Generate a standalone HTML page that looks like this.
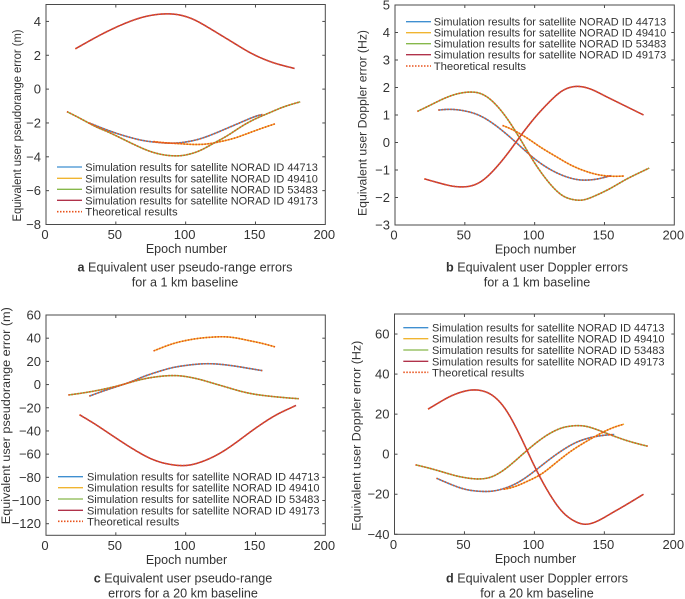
<!DOCTYPE html>
<html>
<head>
<meta charset="utf-8">
<style>
html,body{margin:0;padding:0;background:#fff;width:685px;height:599px;overflow:hidden}
svg{display:block;font-family:"Liberation Sans",sans-serif;filter:blur(0.35px)}
text{fill:#333}
</style>
</head>
<body>
<svg id="fig" width="685" height="599" viewBox="0 0 685 599"></svg>
<script>
const xTicks=[0,50,100,150,200];
const seriesNames=["Simulation results for satellite NORAD ID 44713","Simulation results for satellite NORAD ID 49410","Simulation results for satellite NORAD ID 53483","Simulation results for satellite NORAD ID 49173"];
const theoryName="Theoretical results";

const aTicks=[-8,-6,-4,-2,0,2,4];
const a44713X=[31,40,50,60,70,80,90,100,110,120,130,140,150,155];
const a44713Y=[-2.0,-2.3,-2.6,-2.85,-3.05,-3.15,-3.2,-3.13,-2.95,-2.65,-2.3,-1.95,-1.6,-1.5];
const a49410X=[77,85,95,105,115,125,135,145,155,164];
const a49410Y=[-3.1,-3.17,-3.22,-3.27,-3.25,-3.1,-2.9,-2.6,-2.3,-2.05];
const a53483X=[15,25,35,45,55,65,75,85,93,100,110,120,130,140,150,160,170,182];
const a53483Y=[-1.33,-1.75,-2.2,-2.55,-2.95,-3.35,-3.7,-3.9,-3.95,-3.9,-3.65,-3.2,-2.75,-2.2,-1.75,-1.4,-1.05,-0.75];
const a49173X=[21,30,40,50,60,70,80,88,95,105,115,125,135,145,155,165,178];
const a49173Y=[2.38,2.8,3.25,3.65,4.0,4.27,4.42,4.45,4.4,4.15,3.7,3.2,2.7,2.2,1.8,1.5,1.22];

const bTicks=[-3,-2,-1,0,1,2,3,4,5];
const b44713X=[31,40,50,60,70,80,90,100,110,120,130,137,145,155];
const b44713Y=[1.18,1.21,1.15,1.0,0.7,0.3,-0.15,-0.6,-0.95,-1.2,-1.35,-1.37,-1.33,-1.2];
const b49410X=[77,85,95,105,115,125,135,145,155,164];
const b49410Y=[0.62,0.45,0.15,-0.2,-0.5,-0.8,-1.02,-1.17,-1.23,-1.22];
const b53483X=[16,25,35,45,55,62,70,80,90,100,110,120,130,135,145,155,165,175,182];
const b53483Y=[1.13,1.35,1.6,1.78,1.84,1.78,1.5,0.9,0.1,-0.75,-1.45,-1.95,-2.1,-2.1,-1.9,-1.65,-1.35,-1.1,-0.93];
const b49173X=[21,30,40,48,55,62,70,80,90,100,110,120,130,140,150,160,170,178];
const b49173Y=[-1.32,-1.45,-1.58,-1.62,-1.58,-1.42,-1.05,-0.45,0.25,0.9,1.45,1.9,2.05,1.95,1.7,1.45,1.2,1.0];

const cTicks=[-120,-100,-80,-60,-40,-20,0,20,40,60];
const c44713X=[31,40,50,60,70,80,90,100,110,118,125,135,145,155];
const c44713Y=[-10,-6,-2,2,7,11,14.5,16.5,17.8,18,17.5,16,14,12];
const c49410X=[77,90,100,110,120,127,135,145,155,164];
const c49410Y=[29,35,38,40,41,41.3,40.5,38,35.5,32.5];
const c53483X=[16,25,35,45,55,65,75,85,93,100,110,120,130,140,150,160,170,181];
const c53483Y=[-9,-7.5,-5.5,-3,0,3.5,6,7.5,7.8,7,4.5,1,-2.5,-6,-8.5,-10,-11.2,-12.2];
const c49173X=[24,35,45,55,65,75,85,97,105,115,125,135,145,155,165,179];
const c49173Y=[-26,-34,-42,-50,-57.5,-64,-68,-70,-69,-65,-59,-51,-42,-33.5,-26,-18];

const dTicks=[-40,-20,0,20,40,60];
const d44713X=[30,40,50,60,70,80,90,100,110,120,130,140,150,157];
const d44713Y=[-12,-15,-17.5,-18.5,-18.5,-16.8,-13.5,-8.5,-3,2,6,8.3,9.5,9.8];
const d49410X=[78,85,95,105,115,125,135,145,155,164];
const d49410Y=[-17.5,-16.5,-13.5,-10,-4.5,1,5.5,9.5,13,15];
const d53483X=[15,25,35,45,55,62,70,80,90,100,110,120,130,137,145,155,165,175,181];
const d53483Y=[-5.3,-7,-9,-11,-12.2,-12.4,-11.3,-7,-1,5,10,13.3,14.3,14,12.2,9.5,7,5,4];
const d49173X=[24,30,40,50,57,65,72,80,90,100,110,120,130,137,145,155,165,178];
const d49173Y=[22.5,25,29,31.5,32.2,31.3,28.5,22,9,-6,-19,-29,-34,-35.2,-33.5,-29.5,-25.5,-20];

const colors=["#3f8fd0","#f0b530","#86b84a","#b0324a"];
const theoryColor="#e8531c";
const NS="http://www.w3.org/2000/svg";
const fig=document.getElementById("fig");

function mk(parent,tag,attrs,txt){
  const e=document.createElementNS(NS,tag);
  for(const k in attrs)e.setAttribute(k,attrs[k]);
  if(txt!==undefined)e.textContent=txt;
  parent.appendChild(e);
  return e;
}
/* The read-off values carry small reading noise: draw a low-pass curve through them. */
function curve(xs,ys,sx,sy){
  const n=xs.length,tan=[];
  for(let i=0;i<n;i++){
    const a=Math.max(i-1,0),b=Math.min(i+1,n-1);
    tan.push((ys[b]-ys[a])/(xs[b]-xs[a]));
  }
  const dx=[],dy=[];
  let seg=0;
  for(let x=xs[0];x<xs[n-1];x+=1){
    while(seg<n-2&&x>xs[seg+1])seg++;
    const h=xs[seg+1]-xs[seg],t=(x-xs[seg])/h,t2=t*t,t3=t2*t;
    dx.push(x);
    dy.push((2*t3-3*t2+1)*ys[seg]+(t3-2*t2+t)*h*tan[seg]+(-2*t3+3*t2)*ys[seg+1]+(t3-t2)*h*tan[seg+1]);
  }
  dx.push(xs[n-1]);
  dy.push(ys[n-1]);
  const m=dx.length,out=[];
  for(let i=0;i<m;i++){
    const w=Math.min(6,i,m-1-i);
    let s=0,tw=0;
    for(let k=-w;k<=w;k++){
      const wt=w+1-Math.abs(k);
      s+=dy[i+k]*wt;
      tw+=wt;
    }
    out.push((i===0?"M":"L")+sx(dx[i]).toFixed(2)+" "+sy(s/tw).toFixed(2));
  }
  return out.join("");
}
function fmt(v){return v<0?"\u2212"+Math.abs(v):String(v)}

function panel(o){
  const g=mk(fig,"g",{});
  
  
  const W=o.x1-o.x0,H=o.y1-o.y0;
  const sx=v=>o.x0+v/200*W;
  const sy=v=>o.y1-(v-o.min)/(o.max-o.min)*H;

  const box=mk(g,"rect",{x:o.x0,y:o.y0,width:W,height:H,fill:"#fff",stroke:"#4a4a4a","stroke-width":1});
  
  

  xTicks.forEach(t=>{
    const x=sx(t);
    if(t>0&&t<200){
      const t1=mk(g,"line",{x1:x,x2:x,y1:o.y1,y2:o.y1-3,stroke:"#4a4a4a","stroke-width":1});
      
      
      const t2=mk(g,"line",{x1:x,x2:x,y1:o.y0,y2:o.y0+3,stroke:"#4a4a4a","stroke-width":1});
      
      
    }
    const l=mk(g,"text",{x:x-1,y:o.y1+14.5,"text-anchor":"middle","font-size":13},String(t));
    
    
  });
  o.ticks.forEach(t=>{
    const y=sy(t);
    const t1=mk(g,"line",{x1:o.x0,x2:o.x0+3,y1:y,y2:y,stroke:"#4a4a4a","stroke-width":1});
    
    
    const t2=mk(g,"line",{x1:o.x1,x2:o.x1-3,y1:y,y2:y,stroke:"#4a4a4a","stroke-width":1});
    
    
    const l=mk(g,"text",{x:o.x0-5,y:y+4.5,"text-anchor":"end","font-size":13},fmt(t));
    
    
  });

  o.series.forEach((s,i)=>{
    const p=mk(g,"path",{d:curve(s[0],s[1],sx,sy),fill:"none",stroke:colors[i],"stroke-width":1.5});
    
    
  });
  o.series.forEach((s,i)=>{
    const p=mk(g,"path",{d:curve(s[0],s[1],sx,sy),fill:"none",stroke:theoryColor,"stroke-width":1.6,"stroke-dasharray":"1.5 1.5"});
    
    
  });

  const xl=mk(g,"text",{x:o.xLabelX,y:o.y1+28.5,"text-anchor":"middle","font-size":12.5},"Epoch number");
  
  
  const yl=mk(g,"text",{transform:"translate("+(o.yLabelX+4)+","+o.yLabelY+") rotate(-90)","text-anchor":"middle","font-size":12.4,textLength:o.yLabelW,lengthAdjust:"spacingAndGlyphs"},o.yLabel);
  
  

  o.legendRows.forEach((cy,i)=>{
    const isTheory=i===4;
    const ln=mk(g,"line",{x1:o.legX,x2:o.legX+25,y1:cy,y2:cy,stroke:isTheory?theoryColor:colors[i],"stroke-width":isTheory?1.6:1.3});
    if(isTheory)ln.setAttribute("stroke-dasharray","1.5 1.5");
    
    
    const attrs={x:o.legTextX,y:cy+4,"font-size":11.3};
    if(!isTheory){attrs.textLength=232.5;attrs.lengthAdjust="spacingAndGlyphs";}
    const tx=mk(g,"text",attrs,isTheory?theoryName:seriesNames[i]);
    
    
  });

  const c1=mk(g,"text",{x:o.capX,y:o.capY,"text-anchor":"middle","font-size":12.6});
  
  
  mk(c1,"tspan",{"font-weight":"bold"},o.id);
  mk(c1,"tspan",{},"\u00a0"+o.cap1);
  const c2=mk(g,"text",{x:o.capX,y:o.capY+15,"text-anchor":"middle","font-size":12.6},o.cap2);
  
  
}

panel({id:"a",x0:46,x1:325.3,y0:4.5,y1:224.5,min:-8,max:5,ticks:aTicks,
  series:[[a44713X,a44713Y],[a49410X,a49410Y],[a53483X,a53483Y],[a49173X,a49173Y]],
  xLabelX:186.5,yLabel:"Equivalent user pseudorange error (m)",yLabelX:17,yLabelY:125.5,yLabelW:192,
  legendRows:[167,178.3,189.3,200.3,211.7],legX:57,legTextX:85.3,
  capX:185,capY:271.5,cap1:"Equivalent user pseudo-range errors",cap2:"for a 1 km baseline"});
panel({id:"b",x0:395,x1:674.3,y0:5,y1:225,min:-3,max:5,ticks:bTicks,
  series:[[b44713X,b44713Y],[b49410X,b49410Y],[b53483X,b53483Y],[b49173X,b49173Y]],
  xLabelX:535.5,yLabel:"Equivalent user Doppler error (Hz)",yLabelX:362.5,yLabelY:123,yLabelW:186,
  legendRows:[21.7,32.7,43.7,54.7,66],legX:406,legTextX:433.7,
  capX:537,capY:271.5,cap1:"Equivalent user Doppler errors",cap2:"for a 1 km baseline"});
panel({id:"c",x0:46,x1:325.3,y0:315,y1:535.3,min:-130,max:60,ticks:cTicks,
  series:[[c44713X,c44713Y],[c49410X,c49410Y],[c53483X,c53483Y],[c49173X,c49173Y]],
  xLabelX:186.5,yLabel:"Equivalent user pseudorange error (m)",yLabelX:6,yLabelY:415.7,yLabelW:217,
  legendRows:[476.7,487.7,499,510.3,521.3],legX:58,legTextX:87,
  capX:183,capY:582.5,cap1:"Equivalent user pseudo-range",cap2:"errors for a 20 km baseline"});
panel({id:"d",x0:394.5,x1:674.3,y0:314,y1:534.3,min:-40,max:70,ticks:dTicks,
  series:[[d44713X,d44713Y],[d49410X,d49410Y],[d53483X,d53483Y],[d49173X,d49173Y]],
  xLabelX:535.5,yLabel:"Equivalent user Doppler error (Hz)",yLabelX:356.7,yLabelY:435.7,yLabelW:190,
  legendRows:[327.7,338.7,350,361.3,372.3],legX:403.3,legTextX:432,
  capX:537,capY:582.5,cap1:"Equivalent user Doppler errors",cap2:"for a 20 km baseline"});
</script>
</body>
</html>
